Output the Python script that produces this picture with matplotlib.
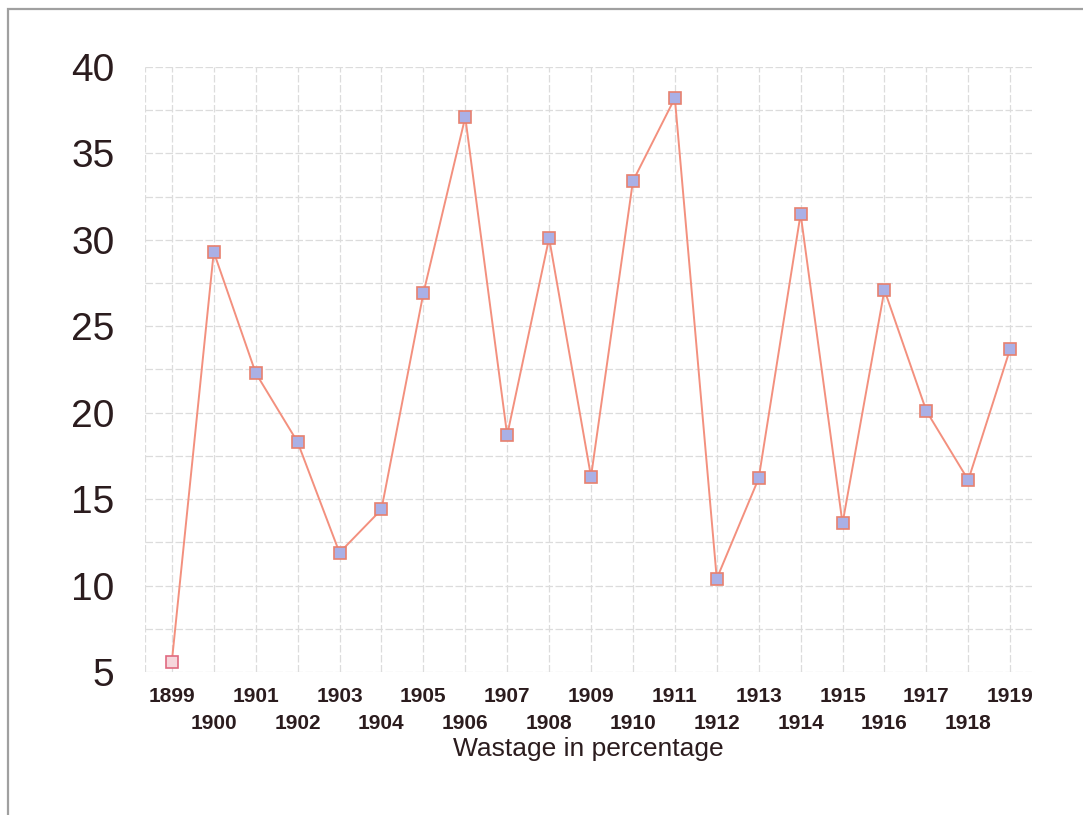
import numpy as np
import matplotlib.pyplot as plt
from matplotlib.patches import Rectangle

years = [1899, 1900, 1901, 1902, 1903, 1904, 1905, 1906, 1907, 1908, 1909,
         1910, 1911, 1912, 1913, 1914, 1915, 1916, 1917, 1918, 1919]
wastage = [5.6, 29.3, 22.3, 18.3, 11.9, 14.4, 26.9, 37.1, 18.7, 30.1, 16.3,
           33.4, 38.2, 10.4, 16.2, 31.5, 13.6, 27.1, 20.1, 16.1, 23.7]
y_ticks = [5, 10, 15, 20, 25, 30, 35, 40]

plt.rcParams["font.family"] = ["Liberation Sans", "DejaVu Sans"]
text_color = "#2b1c1e"

fig = plt.figure(figsize=(10.83, 8.15), dpi=100)
ax = fig.add_axes([0.1339, 0.1755, 0.819, 0.7423])

# outer frame
fig.patches.append(Rectangle((8 / 1083, -0.05), 1.1, 1 - 9 / 815 + 0.05,
                             transform=fig.transFigure, fill=False,
                             edgecolor="#a0a0a0", linewidth=1.6))

ax.plot(years, wastage, color="#f3907e", linewidth=1.4, zorder=2)
ax.plot(years[1:], wastage[1:], linestyle="none", marker="s",
        markersize=9, markerfacecolor="#aab0e6", markeredgecolor="#e8806e",
        markeredgewidth=1.2, zorder=3)
ax.plot(years[:1], wastage[:1], linestyle="none", marker="s",
        markersize=9, markerfacecolor="#f6d6dc", markeredgecolor="#e06a80",
        markeredgewidth=1.2, zorder=3)

ax.set_xlim(1898.36, 1919.52)
ax.set_ylim(5, 40)

ax.set_xticks(years)
ax.set_xticklabels([str(y) for y in years])
ax.set_yticks(y_ticks)
ax.set_yticks(np.arange(7.5, 40, 5), minor=True)

# odd years on the first row, even years below
for i, tick in enumerate(ax.xaxis.get_major_ticks()):
    tick.set_pad(10.5 if i % 2 == 0 else 30)

ax.tick_params(axis="x", length=0, labelsize=15, labelcolor=text_color)
ax.tick_params(axis="y", which="both", length=0, pad=22, labelsize=28,
               labelcolor=text_color)
for lbl in ax.get_xticklabels():
    lbl.set_fontweight("bold")

ax.grid(True, which="both", color="#dcdcdc", linestyle=(0, (6, 2)),
        linewidth=0.9, zorder=0)
ax.axvline(1898.36, color="#dcdcdc", linestyle=(0, (6, 2)), linewidth=0.9,
           zorder=0)

for side in ax.spines.values():
    side.set_visible(False)

ax.set_xlabel("Wastage in percentage", fontsize=19, color=text_color,
              labelpad=3)

fig.savefig("out.png", dpi=100)
